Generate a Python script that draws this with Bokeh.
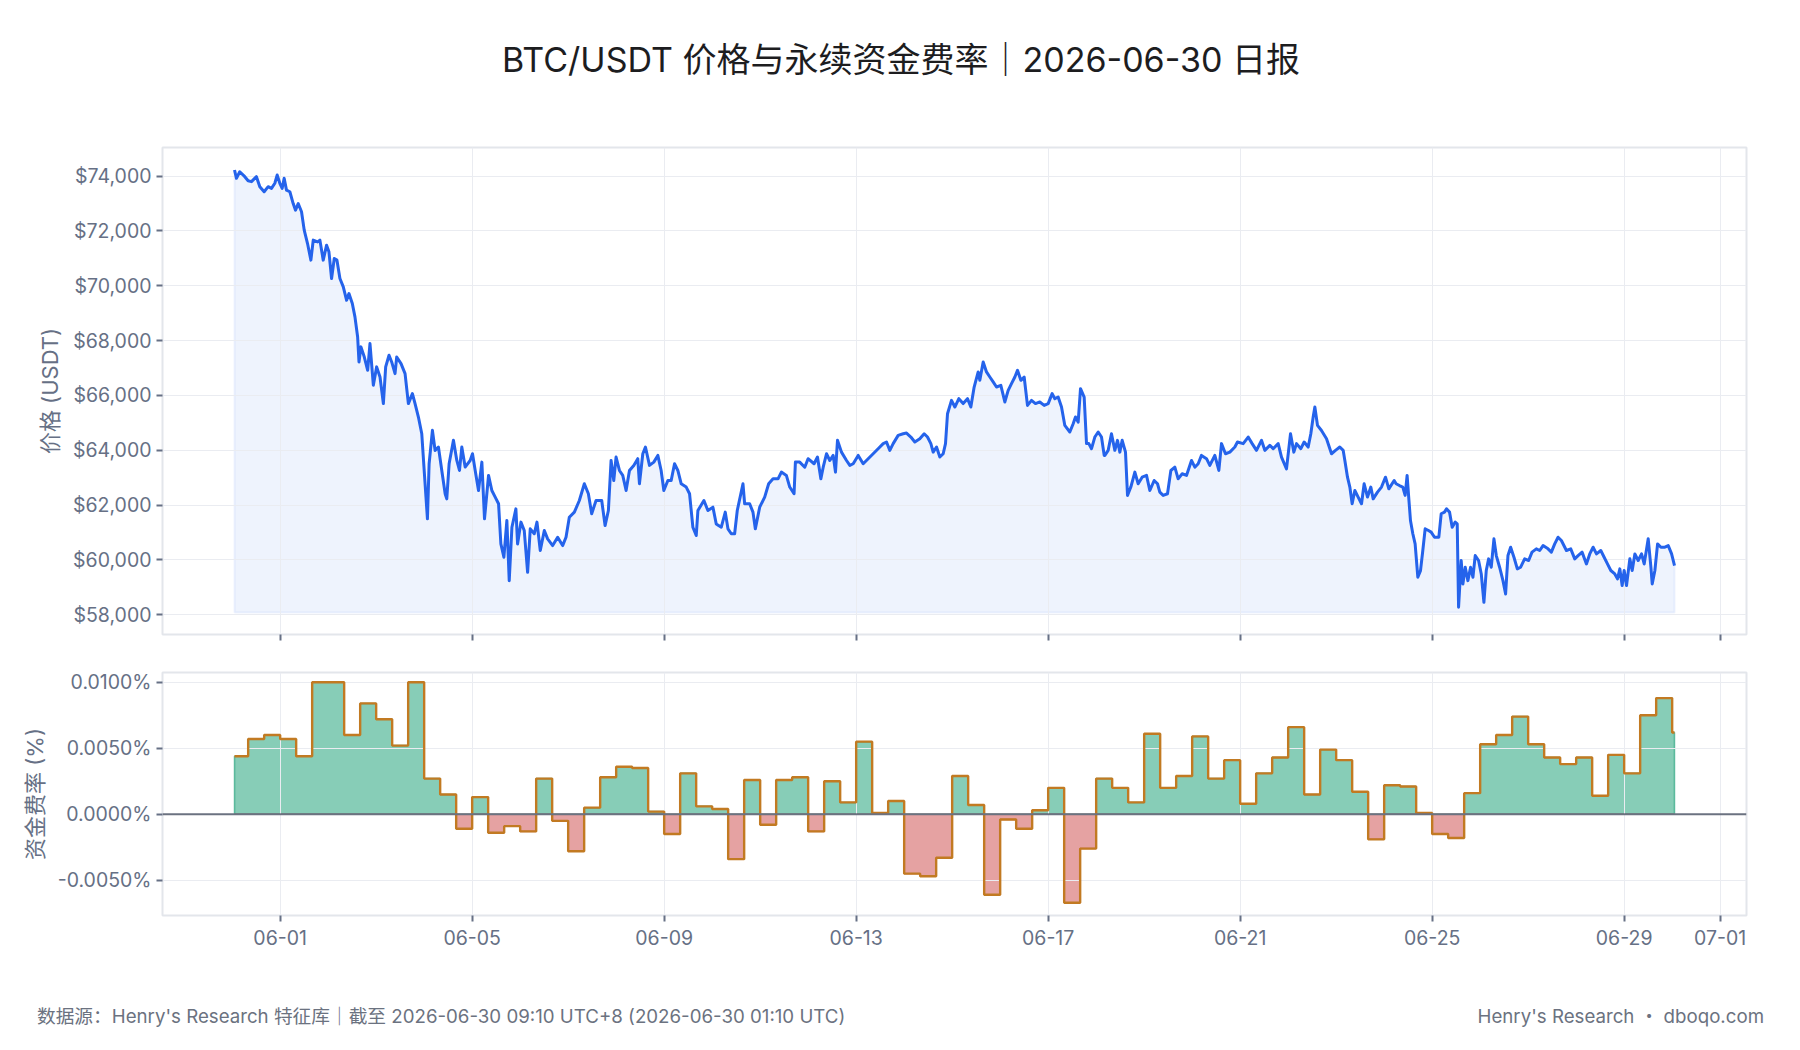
import pandas as pd
from bokeh.plotting import figure
from bokeh.models import (Range1d, FixedTicker, NumeralTickFormatter, PrintfTickFormatter,
                          DatetimeTickFormatter, Span, Div)
from bokeh.layouts import column
from bokeh.embed import file_html
from bokeh.resources import INLINE

# ---------------- data ----------------
title_text = "BTC/USDT 价格与永续资金费率｜2026-06-30 日报"
footer_left = "数据源：Henry's Research 特征库｜截至 2026-06-30 09:10 UTC+8 (2026-06-30 01:10 UTC)"
footer_right = "Henry's Research ・ dboqo.com"
price_label = "价格 (USDT)"
funding_label = "资金费率 (%)"

data_start = "2026-05-31 01:10"
data_end = "2026-06-30 01:10"
day_zero = "2026-06-01 00:00"          # price_day offsets are days from here (UTC)

x_tick_dates = ["2026-06-01", "2026-06-05", "2026-06-09", "2026-06-13", "2026-06-17",
                "2026-06-21", "2026-06-25", "2026-06-29", "2026-07-01"]
price_ticks = [58000, 60000, 62000, 64000, 66000, 68000, 70000, 72000, 74000]
funding_ticks = [-0.005, 0.0, 0.005, 0.01]

price_day_a = [
    -0.951, -0.911, -0.842, -0.737, -0.668, -0.598, -0.494, -0.424, -0.334, -0.250,
    -0.181, -0.111, -0.063, -0.007, 0.042, 0.083, 0.132, 0.202, 0.271, 0.320,
    0.376, 0.445, 0.501, 0.570, 0.640, 0.689, 0.779, 0.828, 0.897, 0.967,
    1.016, 1.071, 1.127, 1.183, 1.245, 1.315, 1.384, 1.433, 1.503, 1.558,
    1.614, 1.642, 1.683, 1.753, 1.823, 1.871, 1.941, 2.010, 2.080, 2.150,
    2.198, 2.268, 2.323, 2.393, 2.428, 2.518, 2.602, 2.671, 2.755, 2.810,
    2.880, 2.950, 3.005, 3.068, 3.103, 3.172, 3.228, 3.297, 3.367, 3.437,
    3.471, 3.520, 3.610, 3.680, 3.736, 3.784, 3.854, 3.958, 4.007, 4.063,
    4.132, 4.202, 4.257, 4.341, 4.410, 4.480, 4.550, 4.598, 4.661, 4.723,
    4.772, 4.828]
price_a = [
    74224, 73920, 74160, 73980, 73830, 73800, 73980, 73615, 73430, 73615,
    73555, 73740, 74040, 73740, 73555, 73920, 73490, 73430, 73000, 72760,
    73000, 72700, 72030, 71540, 70935, 71665, 71600, 71665, 70935, 71480,
    71240, 70265, 70995, 70935, 70265, 69960, 69470, 69715, 69350, 68865,
    68130, 67220, 67770, 67400, 66915, 67890, 66370, 67040, 66670, 65700,
    67040, 67465, 67220, 66795, 67400, 67160, 66795, 65700, 66065, 65700,
    65210, 64600, 63140, 61495, 63505, 64725, 63990, 64115, 63260, 62410,
    62225, 63505, 64360, 63625, 63260, 64115, 63385, 63625, 63870, 63260,
    62530, 63565, 61495, 63080, 62530, 62290, 62045, 60580, 60095, 61435,
    59240, 61190]

price_day_b = [
    4.911, 4.946, 5.016, 5.085, 5.155, 5.210, 5.294, 5.350, 5.419, 5.503,
    5.572, 5.677, 5.781, 5.885, 5.955, 6.024, 6.129, 6.233, 6.337, 6.421,
    6.490, 6.581, 6.699, 6.769, 6.838, 6.894, 6.950, 6.998, 7.068, 7.137,
    7.207, 7.277, 7.367, 7.450, 7.485, 7.555, 7.610, 7.694, 7.784, 7.868,
    7.937, 7.993, 8.077, 8.146, 8.216, 8.285, 8.355, 8.459, 8.529, 8.598,
    8.668, 8.703, 8.828, 8.911, 9.016, 9.085, 9.190, 9.273, 9.329, 9.398,
    9.468, 9.523, 9.642, 9.677, 9.781, 9.850, 9.899, 9.990, 10.094, 10.177,
    10.268, 10.372, 10.442, 10.546, 10.616, 10.706, 10.734, 10.824, 10.929, 10.998,
    11.123]
price_b = [
    61860, 60580, 61375, 61070, 59545, 61130, 60950, 61375, 60340, 61070,
    60765, 60520, 60825, 60520, 60825, 61555, 61740, 62165, 62775, 62410,
    61680, 62165, 62165, 61250, 61800, 63625, 62895, 63750, 63260, 63080,
    62530, 63260, 63445, 63690, 62775, 63870, 64115, 63445, 63565, 63810,
    63260, 62530, 62895, 62895, 63505, 63260, 62775, 62655, 62410, 61190,
    60885, 61800, 62165, 61800, 61920, 61310, 61190, 61740, 61130, 60950,
    60950, 61800, 62775, 62045, 62045, 61740, 61130, 61920, 62290, 62775,
    62955, 62955, 63200, 63080, 62655, 62410, 63565, 63565, 63380, 63690,
    63505]

price_day_c = [
    11.194, 11.264, 11.313, 11.382, 11.451, 11.521, 11.569, 11.611, 11.694, 11.799,
    11.868, 11.938, 12.042, 12.146, 12.250, 12.354, 12.458, 12.563, 12.632, 12.701,
    12.771, 12.875, 12.979, 13.049, 13.139, 13.222, 13.326, 13.417, 13.486, 13.556,
    13.604, 13.674, 13.743, 13.813, 13.861, 13.903, 13.986, 14.056, 14.139, 14.229,
    14.319, 14.389, 14.458, 14.542, 14.576, 14.646, 14.715, 14.785, 14.854, 14.924,
    15.014, 15.097, 15.167, 15.236, 15.306, 15.361, 15.431, 15.500, 15.569, 15.653,
    15.736, 15.826, 15.917, 16.000, 16.083, 16.139, 16.208, 16.278, 16.347, 16.451,
    16.521, 16.569, 16.625, 16.674, 16.750, 16.799, 16.847, 16.903, 16.972, 17.042,
    17.111, 17.167]
price_c = [
    63750, 62955, 63380, 63870, 63625, 63810, 63200, 64360, 63930, 63625,
    63445, 63505, 63810, 63505, 63690, 63870, 64055, 64240, 64300, 63995,
    64240, 64540, 64600, 64625, 64480, 64300, 64420, 64600, 64480, 64240,
    63930, 64115, 63750, 63870, 64240, 65330, 65820, 65575, 65880, 65700,
    65880, 65575, 66305, 66855, 66550, 67220, 66855, 66670, 66490, 66305,
    66365, 65760, 66185, 66430, 66670, 66915, 66550, 66670, 65635, 65820,
    65700, 65760, 65635, 65700, 66065, 65880, 65940, 65575, 64905, 64665,
    64965, 65210, 65025, 66245, 65940, 64240, 64240, 64055, 64480, 64665,
    64480, 63810]

price_day_d = [
    17.181, 17.250, 17.319, 17.389, 17.444, 17.493, 17.542, 17.611, 17.653, 17.722,
    17.806, 17.875, 17.958, 18.049, 18.118, 18.208, 18.278, 18.326, 18.396, 18.486,
    18.556, 18.639, 18.708, 18.792, 18.882, 18.986, 19.056, 19.125, 19.194, 19.299,
    19.368, 19.472, 19.556, 19.611, 19.694, 19.785, 19.889, 19.944, 20.063, 20.167,
    20.250, 20.340, 20.444, 20.514, 20.618, 20.688, 20.792, 20.861, 20.965, 21.049,
    21.118, 21.174, 21.264, 21.333, 21.417, 21.472, 21.521, 21.556, 21.611, 21.694,
    21.799, 21.903, 21.986, 22.076, 22.146, 22.181, 22.236, 22.285, 22.333, 22.389,
    22.458, 22.528, 22.583, 22.653, 22.722, 22.771, 22.861, 22.944, 23.028, 23.097,
    23.208]
price_d = [
    63810, 63995, 64600, 63995, 64360, 63930, 64360, 63930, 62350, 62655,
    63200, 62775, 63015, 63080, 62530, 62895, 62775, 62470, 62350, 62410,
    63260, 63380, 62955, 63140, 63080, 63625, 63380, 63505, 63810, 63690,
    63445, 63810, 63260, 64240, 63870, 63930, 64115, 64300, 64240, 64480,
    64240, 63995, 64360, 63995, 64175, 64055, 64240, 63750, 63320, 64600,
    63930, 64240, 64055, 64300, 64115, 64600, 65210, 65575, 64905, 64720,
    64420, 63870, 63995, 64115, 63995, 63625, 63015, 62655, 62045, 62530,
    62290, 62045, 62775, 62290, 62655, 62225, 62470, 62655, 63015, 62590,
    62895]

price_day_e = [
    23.249, 23.318, 23.388, 23.437, 23.478, 23.506, 23.548, 23.597, 23.645, 23.701,
    23.757, 23.805, 23.854, 23.923, 23.979, 24.049, 24.139, 24.188, 24.257, 24.299,
    24.362, 24.417, 24.480, 24.522, 24.550, 24.605, 24.640, 24.689, 24.744, 24.800,
    24.849, 24.897, 24.967, 25.023, 25.078, 25.127, 25.176, 25.231, 25.287, 25.336,
    25.405, 25.475, 25.530, 25.579, 25.635, 25.704, 25.774, 25.843, 25.927, 26.010,
    26.080, 26.170, 26.240, 26.310, 26.414, 26.483, 26.553, 26.623, 26.692, 26.797,
    26.887, 26.970, 27.040, 27.123, 27.214, 27.283, 27.353, 27.423, 27.513, 27.583,
    27.652, 27.722, 27.805, 27.861, 27.910, 27.958, 28.000, 28.049, 28.118, 28.167,
    28.223, 28.292, 28.362, 28.417, 28.501, 28.557, 28.584, 28.640, 28.696, 28.765,
    28.849, 28.918, 28.988, 29.049]
price_e = [
    62775, 62710, 62655, 62350, 63080, 62410, 61435, 60950, 60580, 59365,
    59605, 60340, 61130, 61070, 61010, 60825, 60825, 61680, 61740, 61860,
    61740, 61190, 61375, 61310, 58270, 59975, 59120, 59730, 59240, 59730,
    59365, 60155, 59975, 59485, 58450, 59610, 60035, 59730, 60765, 60155,
    59730, 59240, 58755, 60155, 60460, 60095, 59670, 59730, 60035, 59975,
    60280, 60400, 60340, 60520, 60400, 60280, 60580, 60825, 60705, 60340,
    60400, 60035, 60155, 60280, 59850, 60215, 60460, 60215, 60340, 60095,
    59850, 59610, 59485, 59305, 59670, 59060, 59610, 59060, 60035, 59610,
    60215, 59975, 60215, 59850, 60765, 59730, 59120, 59610, 60580, 60460,
    60460, 60520, 60215, 59790]

# funding rate in %, one value per 8h settlement starting 2026-05-31 00:00 UTC
funding_start = "2026-05-31 00:00"
funding_rate = [
    0.0044, 0.0057, 0.0060,   # 05-31
    0.0057, 0.0044, 0.0100,   # 06-01
    0.0100, 0.0060, 0.0084,   # 06-02
    0.0072, 0.0052, 0.0100,   # 06-03
    0.0027, 0.0015, -0.0011,  # 06-04
    0.0013, -0.0014, -0.0009, # 06-05
    -0.0013, 0.0027, -0.0005, # 06-06
    -0.0028, 0.0005, 0.0028,  # 06-07
    0.0036, 0.0035, 0.0002,   # 06-08
    -0.0015, 0.0031, 0.0006,  # 06-09
    0.0004, -0.0034, 0.0026,  # 06-10
    -0.0008, 0.0026, 0.0028,  # 06-11
    -0.0013, 0.0025, 0.0009,  # 06-12
    0.0055, 0.0001, 0.0010,   # 06-13
    -0.0045, -0.0047, -0.0033,  # 06-14
    0.0029, 0.0007, -0.0061,  # 06-15
    -0.0004, -0.0011, 0.0003, # 06-16
    0.0020, -0.0067, -0.0026, # 06-17
    0.0027, 0.0020, 0.0009,   # 06-18
    0.0061, 0.0020, 0.0029,   # 06-19
    0.0059, 0.0027, 0.0041,   # 06-20
    0.0008, 0.0031, 0.0043,   # 06-21
    0.0066, 0.0015, 0.0049,   # 06-22
    0.0041, 0.0017, -0.0019,  # 06-23
    0.0022, 0.0021, 0.0001,   # 06-24
    -0.0015, -0.0018, 0.0016, # 06-25
    0.0053, 0.0060, 0.0074,   # 06-26
    0.0053, 0.0043, 0.0038,   # 06-27
    0.0043, 0.0014, 0.0045,   # 06-28
    0.0031, 0.0075, 0.0088,   # 06-29
    0.0062]                   # 06-30

# ---------------- helpers ----------------
FONT = "Inter, 'Noto Sans CJK SC', sans-serif"
DAY_MS = 86400000.0


def ms(ts):
    return pd.Timestamp(ts).value / 1e6


base = ms(day_zero)
price_days = []
price_vals = []
for dd, pp in [(price_day_a, price_a), (price_day_b, price_b), (price_day_c, price_c),
               (price_day_d, price_d), (price_day_e, price_e)]:
    n = min(len(dd), len(pp))
    price_days += dd[:n]
    price_vals += pp[:n]
price_x = [base + d * DAY_MS for d in price_days]

x0, x1 = ms(data_start), ms(data_end)
span = x1 - x0
x_range = Range1d(x0 - 0.05 * span, x1 + 0.05 * span)
x_ticks = [ms(d) for d in x_tick_dates]

TICK_COLOR = "#667085"
GRID_COLOR = "#eaecf1"
W = 1780


def style(p):
    p.outline_line_color = "#e3e6eb"
    p.outline_line_width = 2
    p.background_fill_color = "white"
    p.border_fill_color = "white"
    for ax in p.axis:
        ax.axis_line_color = None
        ax.major_tick_line_color = TICK_COLOR
        ax.major_tick_line_width = 2
        ax.major_tick_out = 6
        ax.major_tick_in = 0
        ax.minor_tick_line_color = None
        ax.major_label_text_font = FONT
        ax.major_label_text_font_size = "19.5px"
        ax.major_label_text_color = TICK_COLOR
        ax.axis_label_text_font = FONT
        ax.axis_label_text_font_size = "22px"
        ax.axis_label_text_font_style = "normal"
        ax.axis_label_text_color = TICK_COLOR
        ax.axis_label_standoff = 7
    p.grid.grid_line_color = GRID_COLOR
    p.grid.grid_line_width = 1


dt_fmt = DatetimeTickFormatter(days="%m-%d", months="%m-%d", hours="%m-%d", hourmin="%m-%d",
                               years="%m-%d", minutes="%m-%d", minsec="%m-%d", seconds="%m-%d",
                               milliseconds="%m-%d", microseconds="%m-%d")

# ---------------- price panel ----------------
p1 = figure(width=W, height=551, x_axis_type="datetime", x_range=x_range,
            y_range=Range1d(57275, 75045), output_backend="svg", toolbar_location=None,
            min_border_left=162, min_border_right=34, min_border_top=47, min_border_bottom=17)
fill_base = 58080
p1.patch(price_x + [price_x[-1], price_x[0]], price_vals + [fill_base, fill_base],
         fill_color="#2563eb", fill_alpha=0.08, line_color="#2563eb", line_alpha=0.07,
         line_width=2, level="image")
p1.line(price_x, price_vals, line_color="#2563eb", line_width=3, line_join="round")
p1.xaxis.ticker = FixedTicker(ticks=x_ticks)
p1.xaxis.formatter = dt_fmt
p1.yaxis.ticker = FixedTicker(ticks=price_ticks)
p1.yaxis.formatter = NumeralTickFormatter(format="$0,0")
p1.yaxis.axis_label = price_label
style(p1)
# top panel: tick marks only, no date labels
p1.xaxis.major_label_text_font_size = "1px"
p1.xaxis.major_label_text_color = None
p1.xaxis.major_label_standoff = 0

# ---------------- funding panel ----------------
f_times = [ms(t) for t in pd.date_range(funding_start, periods=len(funding_rate), freq="8h")]
edges = [x0] + f_times[1:] + [x1]
step_x, step_y = [], []
pos_y, neg_y = [], []
for i, v in enumerate(funding_rate):
    step_x += [edges[i], edges[i + 1]]
    step_y += [v, v]
    pos_y += [max(v, 0.0), max(v, 0.0)]
    neg_y += [min(v, 0.0), min(v, 0.0)]
poly_x = [x0] + step_x + [x1]

p2 = figure(width=W, height=314, x_axis_type="datetime", x_range=x_range,
            y_range=Range1d(-0.00767, 0.01074), output_backend="svg", toolbar_location=None,
            min_border_left=162, min_border_right=34, min_border_top=21, min_border_bottom=50)
p2.patch(poly_x, [0.0] + pos_y + [0.0], fill_color="#059669", fill_alpha=0.48,
         line_color="#059669", line_alpha=0.55, line_width=1.5, level="image")
p2.patch(poly_x, [0.0] + neg_y + [0.0], fill_color="#c53030", fill_alpha=0.45,
         line_color="#c53030", line_alpha=0.45, line_width=1.5, level="image")
p2.line(step_x, step_y, line_color="#c27a22", line_width=2.4)
p2.add_layout(Span(location=0, dimension="width", line_color="#6b7280", line_width=2))
p2.xaxis.ticker = FixedTicker(ticks=x_ticks)
p2.xaxis.formatter = dt_fmt
p2.yaxis.ticker = FixedTicker(ticks=funding_ticks)
p2.yaxis.formatter = PrintfTickFormatter(format="%.4f%%")
p2.yaxis.axis_label = funding_label
style(p2)
p2.xaxis.major_label_standoff = 8

# ---------------- title & footer ----------------
title_div = Div(
    text=(f'<div style="box-sizing:border-box;width:1780px;padding-left:22px;text-align:center;'
          f'font-family:{FONT};font-size:34px;line-height:40px;padding-top:40px;'
          f'color:#1d1d1f;">{title_text}</div>'),
    width=W, height=100, margin=(0, 0, 0, 0))
footer_div = Div(
    text=(f'<div style="box-sizing:border-box;width:1764px;padding-left:37px;padding-top:40px;'
          f'display:flex;justify-content:space-between;font-family:{FONT};font-size:18.7px;'
          f'line-height:24px;color:#6b7280;"><span>{footer_left}</span>'
          f'<span>{footer_right}</span></div>'),
    width=W, height=66, margin=(0, 0, 0, 0))

layout = column(title_div, p1, p2, footer_div, spacing=0)

with open("out.html", "w") as f:
    f.write(file_html(layout, INLINE, title="BTC/USDT"))
